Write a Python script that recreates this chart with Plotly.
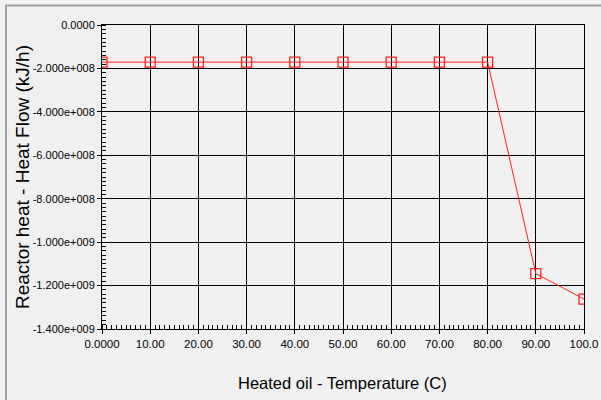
import plotly.graph_objects as go

temperature = [0, 10, 20, 30, 40, 50, 60, 70, 80, 90, 100]
heat_flow = [-1.71e8, -1.71e8, -1.71e8, -1.71e8, -1.71e8, -1.71e8, -1.71e8, -1.71e8, -1.71e8, -1.145e9, -1.262e9]

x_tickvals = [0, 10, 20, 30, 40, 50, 60, 70, 80, 90, 100]
x_ticktext = ["0.0000", "10.00", "20.00", "30.00", "40.00", "50.00", "60.00", "70.00", "80.00", "90.00", "100.0"]
y_tickvals = [0, -2e8, -4e8, -6e8, -8e8, -1e9, -1.2e9, -1.4e9]
y_ticktext = ["0.0000", "-2.000e+008", "-4.000e+008", "-6.000e+008", "-8.000e+008",
              "-1.000e+009", "-1.200e+009", "-1.400e+009"]
x_title = "Heated oil - Temperature (C)"
y_title = "Reactor heat - Heat Flow (kJ/h)"

bg = "#f0f0f0"
fig = go.Figure()
fig.add_trace(go.Scatter(
    x=temperature, y=heat_flow, mode="lines+markers",
    line=dict(color="#ff2020", width=1),
    marker=dict(symbol="square-open", size=10, color="#ff2020", line=dict(width=1.3)),
    showlegend=False, cliponaxis=True, hoverinfo="skip",
))

L, R, T, B = 102, 17, 25, 71
W, H = 601, 400
pw, ph = W - L - R, H - T - B

def px(x):
    return (x - L) / pw

def py(y):
    return (H - B - y) / ph

fig.update_layout(
    width=W, height=H,
    margin=dict(l=L, r=R, t=T, b=B, pad=0),
    paper_bgcolor=bg, plot_bgcolor=bg,
    font=dict(family="Liberation Sans, Arial, sans-serif", color="#000000", size=12),
    xaxis=dict(
        range=[0, 100], tickvals=x_tickvals, ticktext=x_ticktext,
        showgrid=True, gridcolor="#000000", gridwidth=1,
        showline=True, linecolor="#000000", linewidth=1, mirror=True,
        ticks="outside", ticklen=4, tickcolor="#000000",
        minor=dict(dtick=1, ticks="inside", ticklen=4, tickcolor="#000000", showgrid=False),
        zeroline=False, automargin=False,
        tickfont=dict(size=11.5),
    ),
    yaxis=dict(
        range=[-1.4e9, 0], tickvals=y_tickvals, ticktext=y_ticktext,
        showgrid=True, gridcolor="#000000", gridwidth=1,
        showline=True, linecolor="#000000", linewidth=1, mirror=True,
        ticks="outside", ticklen=4, tickcolor="#000000",
        minor=dict(dtick=2e7, ticks="inside", ticklen=4, tickcolor="#000000", showgrid=False),
        zeroline=False, automargin=False,
        tickfont=dict(size=11),
    ),
    annotations=[
        dict(text=x_title, xref="paper", yref="paper", x=px(342), y=py(383),
             xanchor="center", yanchor="middle", showarrow=False, font=dict(size=16.5)),
        dict(text=y_title, xref="paper", yref="paper", x=px(22), y=py(177),
             xanchor="center", yanchor="middle", showarrow=False, textangle=-90,
             font=dict(size=19)),
    ],
    shapes=[
        dict(type="line", xref="paper", yref="paper", x0=px(5), x1=px(601), y0=py(5.5), y1=py(5.5),
             line=dict(color="#a0a0a0", width=2)),
        dict(type="line", xref="paper", yref="paper", x0=px(6), x1=px(6), y0=py(5), y1=py(400),
             line=dict(color="#a0a0a0", width=2)),
    ],
)

fig.write_html(
    "out.html",
    config={"displayModeBar": False},
    post_script="document.body.style.margin='0px';document.body.style.background='#f0f0f0';",
)
